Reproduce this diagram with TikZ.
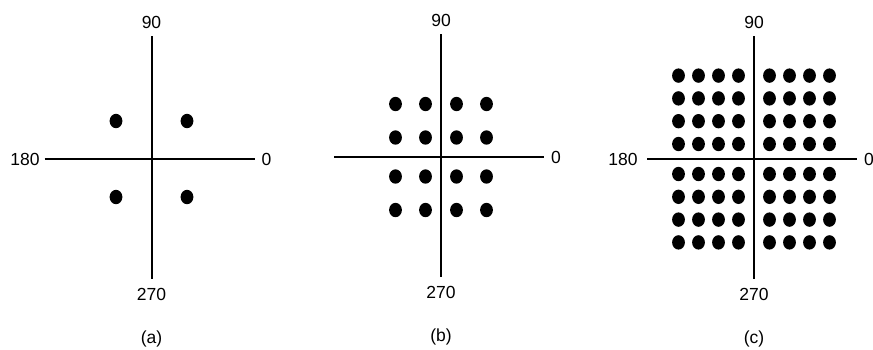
\documentclass[tikz,border=0pt]{standalone}
\usepackage{fontspec}
\setmainfont{Liberation Sans}
\usetikzlibrary{positioning}

\tikzset{
  axis/.style={line width=2pt},
  dot/.style={fill=black, x radius=6.4, y radius=7.2},
  lbl/.style={font=\fontsize{17.5}{20}\selectfont, inner sep=0pt}
}

\begin{document}
\begin{tikzpicture}[x=1pt, y=-1pt]
  \useasboundingbox (0,0) rectangle (873,349);

  % three constellations, one scope each
  \foreach \cx/\cy/\tag/\n/\dx/\dy/\gx/\gy in {151.5/159/a/1/35.5/38/0/0, 441/157/b/2/15.5/19.5/30/33.5, 754/159/c/4/15.5/15/20/22.8} {
    \begin{scope}[shift={(\cx,\cy)}]
      % axes
      \coordinate (up) at (0,-123);
      \coordinate (down) at (0,120);
      \coordinate (left) at (-107,0);
      \coordinate (right) at (103,0);
      \draw[axis] (up) -- (down);
      \draw[axis] (left) -- (right);

      % labels
      \node[lbl, above=7pt of up] (lbl90) {90};
      \node[lbl, below=9pt of down] (lbl270) {270};
      \node[lbl, right=7pt of right] (lbl0) {0};
      \node[lbl] (cap) at (0,180) {(\tag)};

      % points, mirrored into the four quadrants
      \foreach \i in {1,...,\n} {
        \foreach \j in {1,...,\n} {
          \pgfmathsetmacro{\px}{\dx+(\i-1)*\gx}
          \pgfmathsetmacro{\py}{\dy+(\j-1)*\gy}
          \fill[dot] (\px,\py) ellipse[];
          \fill[dot] (-\px,\py) ellipse[];
          \fill[dot] (\px,-\py) ellipse[];
          \fill[dot] (-\px,-\py) ellipse[];
        }
      }
    \end{scope}
  }

  % 180 only on (a) and (c)
  \node[lbl] (lbl180a) at (25,159) {180};
  \node[lbl] (lbl180c) at (623,159) {180};
\end{tikzpicture}
\end{document}
